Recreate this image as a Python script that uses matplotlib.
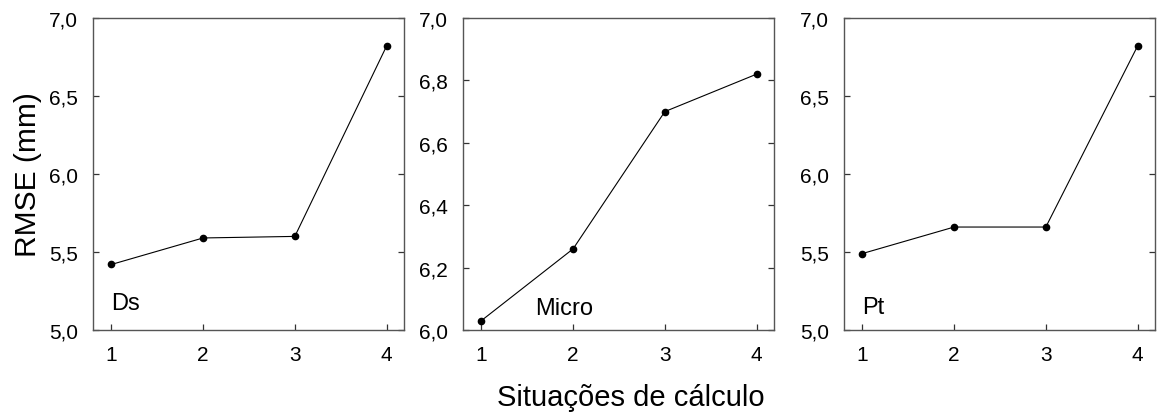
import matplotlib
matplotlib.use("Agg")
import matplotlib.pyplot as plt

plt.rcParams["font.family"] = ["Liberation Sans", "DejaVu Sans"]

situacoes = [1, 2, 3, 4]
rmse_ds = [5.42, 5.59, 5.60, 6.82]
rmse_micro = [6.03, 6.26, 6.70, 6.82]
rmse_pt = [5.49, 5.66, 5.66, 6.82]

panels = [
    ("Ds", rmse_ds, (5.0, 7.0), [5.0, 5.5, 6.0, 6.5, 7.0], (1.0, 5.17)),
    ("Micro", rmse_micro, (6.0, 7.0), [6.0, 6.2, 6.4, 6.6, 6.8, 7.0], (1.59, 6.07)),
    ("Pt", rmse_pt, (5.0, 7.0), [5.0, 5.5, 6.0, 6.5, 7.0], (1.0, 5.15)),
]

fig = plt.figure(figsize=(11.57, 4.14), dpi=100)
lefts = [93, 463, 844]
W, H = 1157, 414
for (name, vals, ylim, yticks, txt), lx in zip(panels, lefts):
    ax = fig.add_axes([lx / W, 1 - 331 / H, 311 / W, (331 - 19) / H])
    ax.plot(situacoes, vals, color="black", lw=0.8, marker="o", ms=4.5)
    ax.set_xlim(0.8, 4.19)
    ax.set_ylim(*ylim)
    ax.set_xticks(situacoes)
    ax.set_yticks(yticks)
    ax.set_yticklabels([f"{t:.1f}".replace(".", ",") for t in yticks])
    ax.tick_params(axis="both", labelsize=15, direction="in", length=4,
                   width=0.9, color="#333333")
    ax.tick_params(axis="y", right=True, pad=11)
    ax.tick_params(axis="x", pad=11)
    for sp in ax.spines.values():
        sp.set_color("#555555")
        sp.set_linewidth(1.0)
    ax.text(txt[0], txt[1], name, fontsize=17, va="center", ha="left")
    if name == "Ds":
        ax.set_ylabel("RMSE (mm)", fontsize=21.5, labelpad=5)

fig.text(631 / W, 1 - 398 / H, "Situações de cálculo", fontsize=21, ha="center", va="center")
fig.savefig("out.png", dpi=100)
